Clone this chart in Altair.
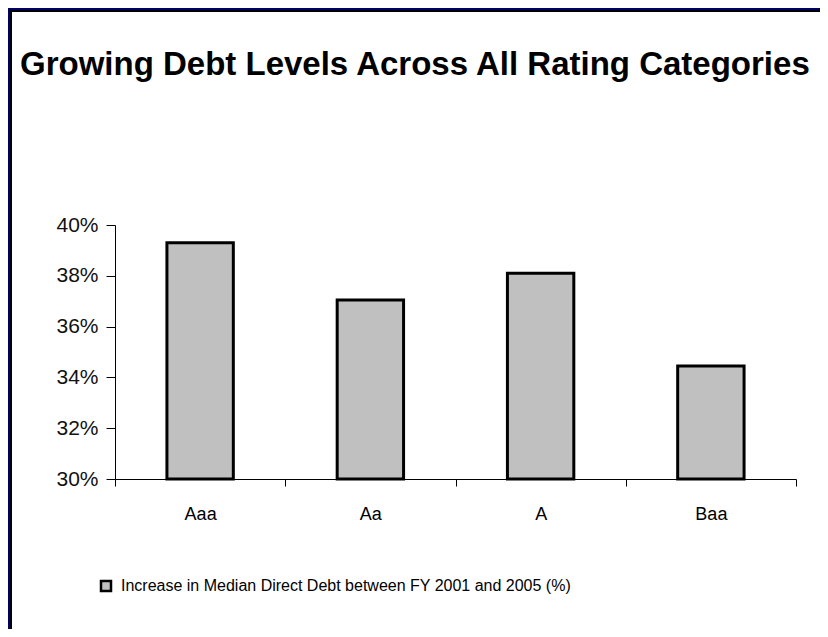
import altair as alt
import pandas as pd

# ---- data ----
categories = ["Aaa", "Aa", "A", "Baa"]
values = [39.3, 37.05, 38.1, 34.45]
series_label = "Increase in Median Direct Debt between FY 2001 and 2005 (%)"
y_ticks = [30, 32, 34, 36, 38, 40]
title_text = "Growing Debt Levels Across All Rating Categories"

df = pd.DataFrame({"rating": categories, "value": values, "series": [series_label] * len(categories)})

REG = "Liberation Sans, Arial, sans-serif"

W, H = 681, 254
PL, PT, PR, PB = 107, 217, 24, 150

bars = alt.Chart(df).mark_bar(
    stroke="black", strokeWidth=3, width=alt.RelativeBandSize(0.39)
).encode(
    x=alt.X(
        "rating:N",
        sort=categories,
        scale=alt.Scale(paddingInner=0, paddingOuter=0),
        axis=alt.Axis(
            title=None, labelAngle=0, tickBand="extent", tickSize=7,
            labelFont=REG, labelFontSize=18, labelPadding=19,
            labelColor="black", domainColor="black", tickColor="black",
        ),
    ),
    y=alt.Y(
        "value:Q",
        scale=alt.Scale(domain=[30, 40], zero=False, nice=False),
        axis=alt.Axis(
            title=None, values=y_ticks, labelExpr="datum.value + '%'", grid=False,
            tickSize=9, labelFont=REG, labelFontSize=21, labelPadding=8,
            labelColor="#111", domainColor="black", tickColor="black",
        ),
    ),
    y2=alt.datum(30),
    fill=alt.Fill(
        "series:N",
        scale=alt.Scale(range=["#c0c0c0"]),
        legend=alt.Legend(
            title=None, orient="none", legendX=-17, legendY=353,
            symbolType="square", symbolSize=100, symbolStrokeColor="black",
            symbolStrokeWidth=2.5, labelFont=REG, labelFontSize=16,
            labelColor="black", labelLimit=0, labelOffset=7, padding=0,
        ),
    ),
)

one = pd.DataFrame({"k": [0]})
left_navy = alt.Chart(one).mark_rect(color="#00006a").encode(
    x=alt.value(-PL), x2=alt.value(-PL + 2), y=alt.value(-PT), y2=alt.value(H + PB))
left_black = alt.Chart(one).mark_rect(color="black").encode(
    x=alt.value(-PL + 2), x2=alt.value(-PL + 4), y=alt.value(-PT + 2), y2=alt.value(H + PB))
top_navy = alt.Chart(one).mark_rect(color="#00006a").encode(
    x=alt.value(-PL), x2=alt.value(W + PR), y=alt.value(-PT), y2=alt.value(-PT + 2))
top_black = alt.Chart(one).mark_rect(color="black").encode(
    x=alt.value(-PL + 2), x2=alt.value(W + PR), y=alt.value(-PT + 2), y2=alt.value(-PT + 4))

title = alt.Chart(one).mark_text(
    text=title_text, align="left", baseline="alphabetic", font=REG,
    fontSize=33, fontWeight="bold", color="black",
).encode(x=alt.value(-95), y=alt.value(-150))

chart = alt.layer(left_navy, left_black, top_navy, top_black, title, bars).properties(
    width=W, height=H,
    padding={"left": PL, "top": PT, "right": PR, "bottom": PB},
    autosize=alt.AutoSizeParams(type="none"),
    background="white",
).configure_view(stroke=None)

chart.save("out.html", embed_options={"renderer": "svg", "actions": False})
